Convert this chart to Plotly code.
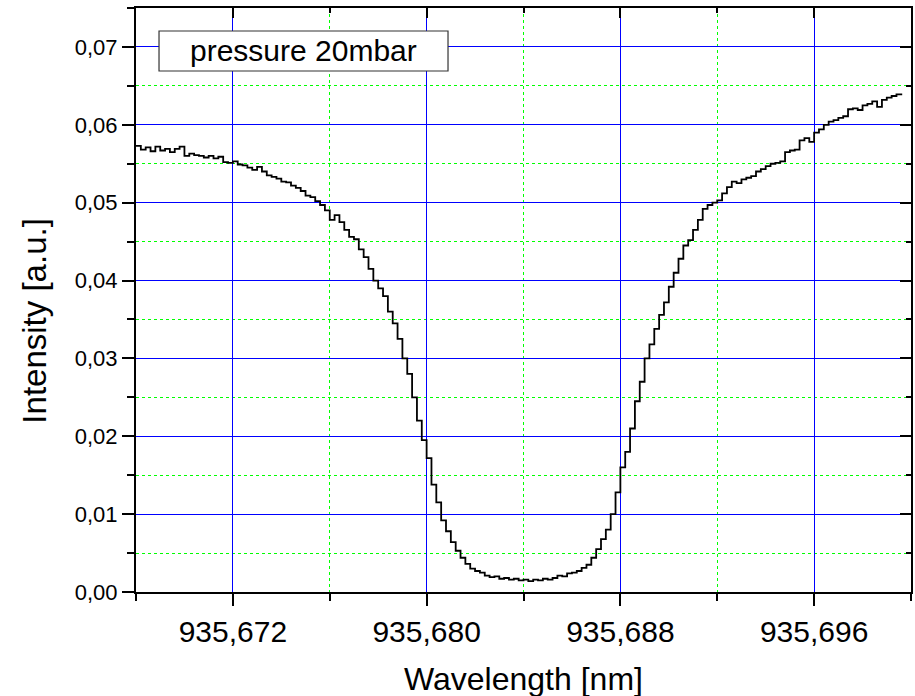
import plotly.graph_objects as go

# Wavelength sample positions (nm) and intensities (a.u.)
wl_start = 935.6680
wl_step = 0.0002
intensity = [
    0.0573, 0.0568, 0.0571, 0.0566, 0.0572, 0.0567, 0.0569, 0.0565, 0.0569, 0.0572,
    0.0560, 0.0563, 0.0561, 0.0560, 0.0558, 0.0560, 0.0557, 0.0559, 0.0552, 0.0551,
    0.0553, 0.0549, 0.0548, 0.0545, 0.0542, 0.0546, 0.0540, 0.0535, 0.0533, 0.0531,
    0.0527, 0.0526, 0.0522, 0.0519, 0.0515, 0.0509, 0.0507, 0.0502, 0.0497, 0.0490,
    0.0478, 0.0484, 0.0475, 0.0465, 0.0456, 0.0453, 0.0440, 0.0430, 0.0415, 0.0400,
    0.0390, 0.0380, 0.0360, 0.0345, 0.0325, 0.0300, 0.0280, 0.0250, 0.0220, 0.0195,
    0.0172, 0.0138, 0.0115, 0.0092, 0.0078, 0.0064, 0.0053, 0.0044, 0.0036, 0.0030,
    0.0027, 0.0025, 0.0021, 0.0019, 0.0020, 0.0017, 0.0018, 0.0016, 0.0017, 0.0015,
    0.0016, 0.0014, 0.0016, 0.0015, 0.0017, 0.0016, 0.0018, 0.0021, 0.0020, 0.0024,
    0.0025, 0.0027, 0.0031, 0.0035, 0.0044, 0.0055, 0.0068, 0.0080, 0.0100, 0.0128,
    0.0160, 0.0180, 0.0210, 0.0245, 0.0270, 0.0300, 0.0318, 0.0338, 0.0356, 0.0372,
    0.0392, 0.0410, 0.0428, 0.0445, 0.0452, 0.0465, 0.0478, 0.0492, 0.0497, 0.0500,
    0.0503, 0.0512, 0.0520, 0.0527, 0.0525, 0.0530, 0.0532, 0.0534, 0.0540, 0.0543,
    0.0547, 0.0550, 0.0551, 0.0553, 0.0565, 0.0567, 0.0568, 0.0580, 0.0583, 0.0578,
    0.0590, 0.0594, 0.0600, 0.0604, 0.0606, 0.0609, 0.0611, 0.0620, 0.0621, 0.0619,
    0.0625, 0.0627, 0.0630, 0.0623, 0.0632, 0.0635, 0.0637, 0.0639, 0.0638,
]
wavelength = [wl_start + i * wl_step for i in range(len(intensity))]

x_range = [935.668, 935.700]
y_range = [0.0, 0.075]
x_tick0 = 935.672
x_dtick = 0.008
y_dtick = 0.01
x_minor = 0.004
y_minor = 0.005

label_text = "pressure 20mbar"
x_title = "Wavelength [nm]"
y_title = "Intensity [a.u.]"

FONT = "Liberation Sans, Arial, sans-serif"
GREEN = "rgb(0,255,0)"
BLUE = "rgb(0,0,255)"

fig = go.Figure()
fig.add_trace(go.Scatter(
    x=wavelength, y=intensity, mode="lines",
    line=dict(color="black", width=1.8, shape="hv"),
    hoverinfo="skip", showlegend=False,
))
# invisible trace to instantiate mirror axes (top / right)
fig.add_trace(go.Scatter(
    x=wavelength, y=intensity, mode="lines", xaxis="x2", yaxis="y2",
    line=dict(color="rgba(0,0,0,0)", width=0),
    hoverinfo="skip", showlegend=False,
))

fig.update_layout(
    template="none",
    width=915, height=696,
    margin=dict(l=136, r=4, t=8, b=104),
    paper_bgcolor="white", plot_bgcolor="white",
    separators=", ",
    font=dict(family=FONT, color="black"),
    xaxis=dict(
        range=x_range, tick0=x_tick0, dtick=x_dtick, tickformat=".3f",
        showline=True, linecolor="black", linewidth=2,
        ticks="outside", ticklen=12, tickwidth=2, tickcolor="black",
        showgrid=True, gridcolor=BLUE, gridwidth=1,
        zeroline=False,
        tickfont=dict(family=FONT, size=30, color="black"),
        minor=dict(dtick=x_minor, tick0=x_tick0, ticks="outside", ticklen=7,
                   tickwidth=2, tickcolor="black",
                   showgrid=True, gridcolor=GREEN, gridwidth=1, griddash="dot"),
    ),
    yaxis=dict(
        range=y_range, tick0=0, dtick=y_dtick, tickformat=".2f",
        showline=True, linecolor="black", linewidth=2,
        ticks="outside", ticklen=12, tickwidth=2, tickcolor="black",
        showgrid=True, gridcolor=BLUE, gridwidth=1,
        zeroline=False,
        tickfont=dict(family=FONT, size=22, color="black"),
        minor=dict(dtick=y_minor, tick0=0, ticks="outside", ticklen=7,
                   tickwidth=2, tickcolor="black",
                   showgrid=True, gridcolor=GREEN, gridwidth=1, griddash="dot"),
    ),
    xaxis2=dict(
        range=x_range, tick0=x_tick0, dtick=x_dtick, overlaying="x", side="top",
        showline=True, linecolor="black", linewidth=2,
        ticks="inside", ticklen=10, tickwidth=2, tickcolor="black",
        showticklabels=False, showgrid=False, zeroline=False,
        minor=dict(dtick=x_minor, tick0=x_tick0, ticks="inside", ticklen=5,
                   tickwidth=2, tickcolor="black", showgrid=False),
    ),
    yaxis2=dict(
        range=y_range, tick0=0, dtick=y_dtick, overlaying="y", side="right",
        showline=True, linecolor="black", linewidth=2,
        ticks="inside", ticklen=11, tickwidth=2, tickcolor="black",
        showticklabels=False, showgrid=False, zeroline=False,
        minor=dict(dtick=y_minor, tick0=0, ticks="inside", ticklen=5,
                   tickwidth=2, tickcolor="black", showgrid=False),
    ),
)

# label box
fig.add_shape(type="rect", xref="paper", yref="paper",
              x0=0.0297, x1=0.4026, y0=0.8921, y1=0.9606,
              line=dict(color="#333333", width=1.2), fillcolor="white", layer="above")
fig.add_annotation(text=label_text, xref="paper", yref="paper",
                   x=0.2161, y=0.9264, xanchor="center", yanchor="middle",
                   showarrow=False, font=dict(family=FONT, size=30, color="black"))

# axis titles
fig.add_annotation(text=x_title, xref="paper", yref="paper",
                   x=0.5, y=-0.149, xanchor="center", yanchor="middle",
                   showarrow=False, font=dict(family=FONT, size=32, color="black"))
fig.add_annotation(text=y_title, xref="paper", yref="paper",
                   x=-0.1303, y=0.463, xanchor="center", yanchor="middle",
                   textangle=-90, showarrow=False,
                   font=dict(family=FONT, size=33, color="black"))

fig.write_html(
    "out.html",
    config={"displayModeBar": False},
    post_script="document.body.style.margin='0';document.body.style.padding='0';",
)
